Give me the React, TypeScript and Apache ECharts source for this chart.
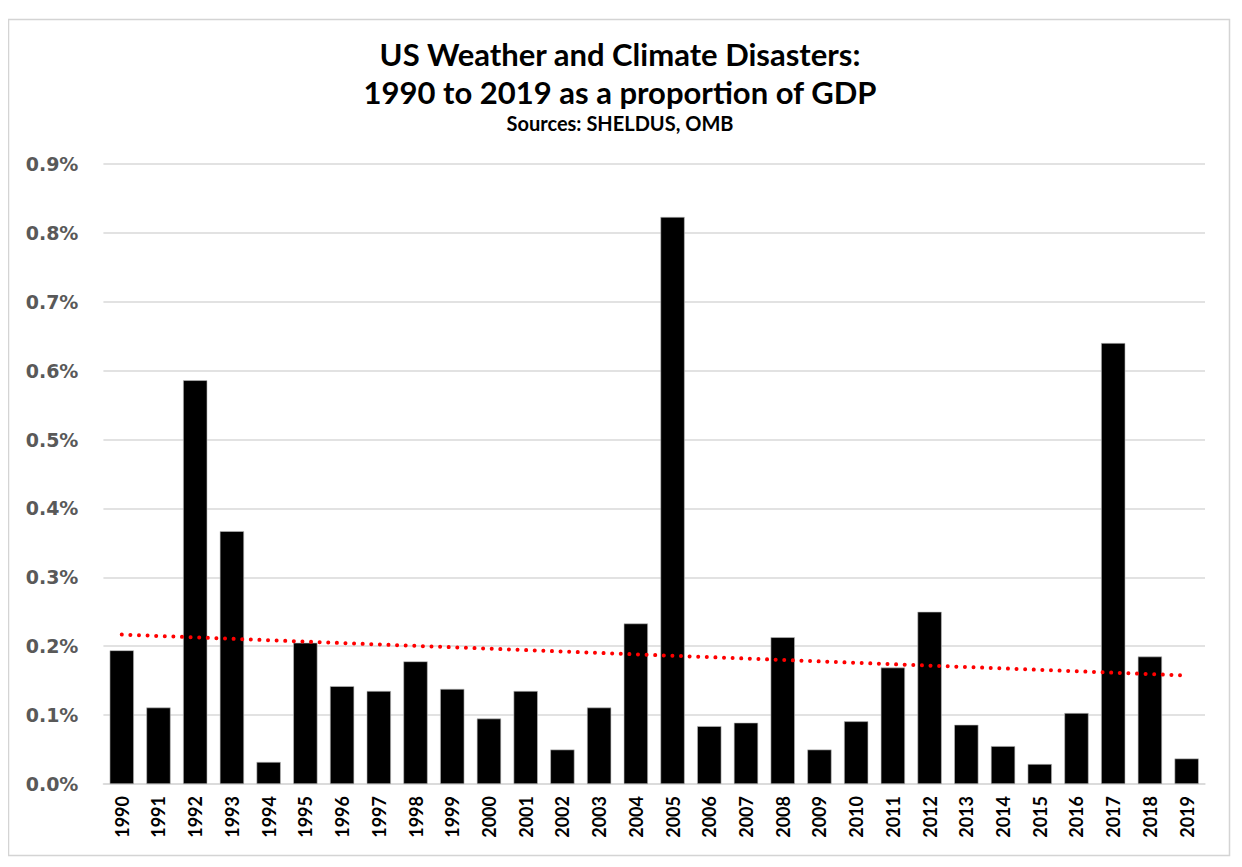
import React, { useEffect, useRef } from "react";
import * as echarts from "echarts";

const years = [
  "1990", "1991", "1992", "1993", "1994", "1995", "1996", "1997", "1998", "1999",
  "2000", "2001", "2002", "2003", "2004", "2005", "2006", "2007", "2008", "2009",
  "2010", "2011", "2012", "2013", "2014", "2015", "2016", "2017", "2018", "2019",
];

// Disaster losses as % of GDP
const lossPct = [
  0.194, 0.111, 0.586, 0.367, 0.032, 0.205, 0.142, 0.135, 0.178, 0.138,
  0.095, 0.135, 0.050, 0.111, 0.233, 0.823, 0.084, 0.089, 0.213, 0.050,
  0.091, 0.169, 0.250, 0.086, 0.055, 0.029, 0.103, 0.640, 0.185, 0.037,
];

const titleLines = ["US Weather and Climate Disasters:", "1990 to 2019 as a proportion of GDP"];
const subtitle = "Sources: SHELDUS, OMB";

function linearTrend(values: number[]): number[] {
  const n = values.length;
  const mx = (n - 1) / 2;
  const my = values.reduce((a, b) => a + b, 0) / n;
  let sxy = 0;
  let sxx = 0;
  values.forEach((v, i) => {
    sxy += (i - mx) * (v - my);
    sxx += (i - mx) * (i - mx);
  });
  const slope = sxy / sxx;
  return values.map((_, i) => my + slope * (i - mx));
}

export default function App() {
  const ref = useRef<HTMLDivElement>(null);

  useEffect(() => {
    if (!ref.current) return;
    const chart = echarts.init(ref.current, undefined, { renderer: "svg" });
    const trend = linearTrend(lossPct);
    const cx = 612;
    chart.setOption({
      animation: false,
      backgroundColor: "#ffffff",
      grid: { left: 95.4, right: 29, top: 155.9, bottom: 75, containLabel: false },
      graphic: [
        {
          type: "rect",
          shape: { x: 0.5, y: 11.5, width: 1221, height: 836 },
          style: { fill: "none", stroke: "#d4d4d4", lineWidth: 1.5 },
          silent: true,
        },
        {
          type: "text",
          x: cx,
          y: 45.5,
          style: {
            text: titleLines[0],
            font: "bold 31px Lato",
            fill: "#000000",
            align: "center",
            verticalAlign: "middle",
          },
        },
        {
          type: "text",
          x: cx,
          y: 83.5,
          style: {
            text: titleLines[1],
            font: "bold 31px Lato",
            fill: "#000000",
            align: "center",
            verticalAlign: "middle",
          },
        },
        {
          type: "text",
          x: cx,
          y: 115,
          style: {
            text: subtitle,
            font: "bold 20px Lato",
            fill: "#000000",
            align: "center",
            verticalAlign: "middle",
          },
        },
      ],
      xAxis: {
        type: "category",
        data: years,
        axisLine: { show: true, lineStyle: { color: "#d9d9d9", width: 1.5 } },
        axisTick: { show: false },
        axisLabel: {
          rotate: 90,
          margin: 12,
          interval: 0,
          color: "#000000",
          fontFamily: "Lato",
          fontWeight: "bold",
          fontSize: 18,
        },
      },
      yAxis: {
        type: "value",
        min: 0,
        max: 0.9,
        interval: 0.1,
        axisLine: { show: false },
        axisTick: { show: false },
        splitLine: { show: true, lineStyle: { color: "#d9d9d9", width: 1.5 } },
        axisLabel: {
          margin: 25,
          color: "#595959",
          fontFamily: "DejaVu Sans",
          fontWeight: "bold",
          fontSize: 19,
          formatter: (v: number) => v.toFixed(1) + "%",
        },
      },
      series: [
        {
          name: "Losses",
          type: "bar",
          data: lossPct,
          barCategoryGap: "34%",
          itemStyle: { color: "#000000", borderColor: "#bfbfbf", borderWidth: 0.6 },
          z: 2,
        },
        {
          name: "Trend",
          type: "line",
          data: trend,
          symbol: "none",
          z: 3,
          lineStyle: {
            color: "#ff0000",
            width: 4,
            type: [0.01, 8.6],
            cap: "round",
          },
        },
      ],
    });
    return () => chart.dispose();
  }, []);

  return <div ref={ref} style={{ width: 1226, height: 851 }} />;
}
